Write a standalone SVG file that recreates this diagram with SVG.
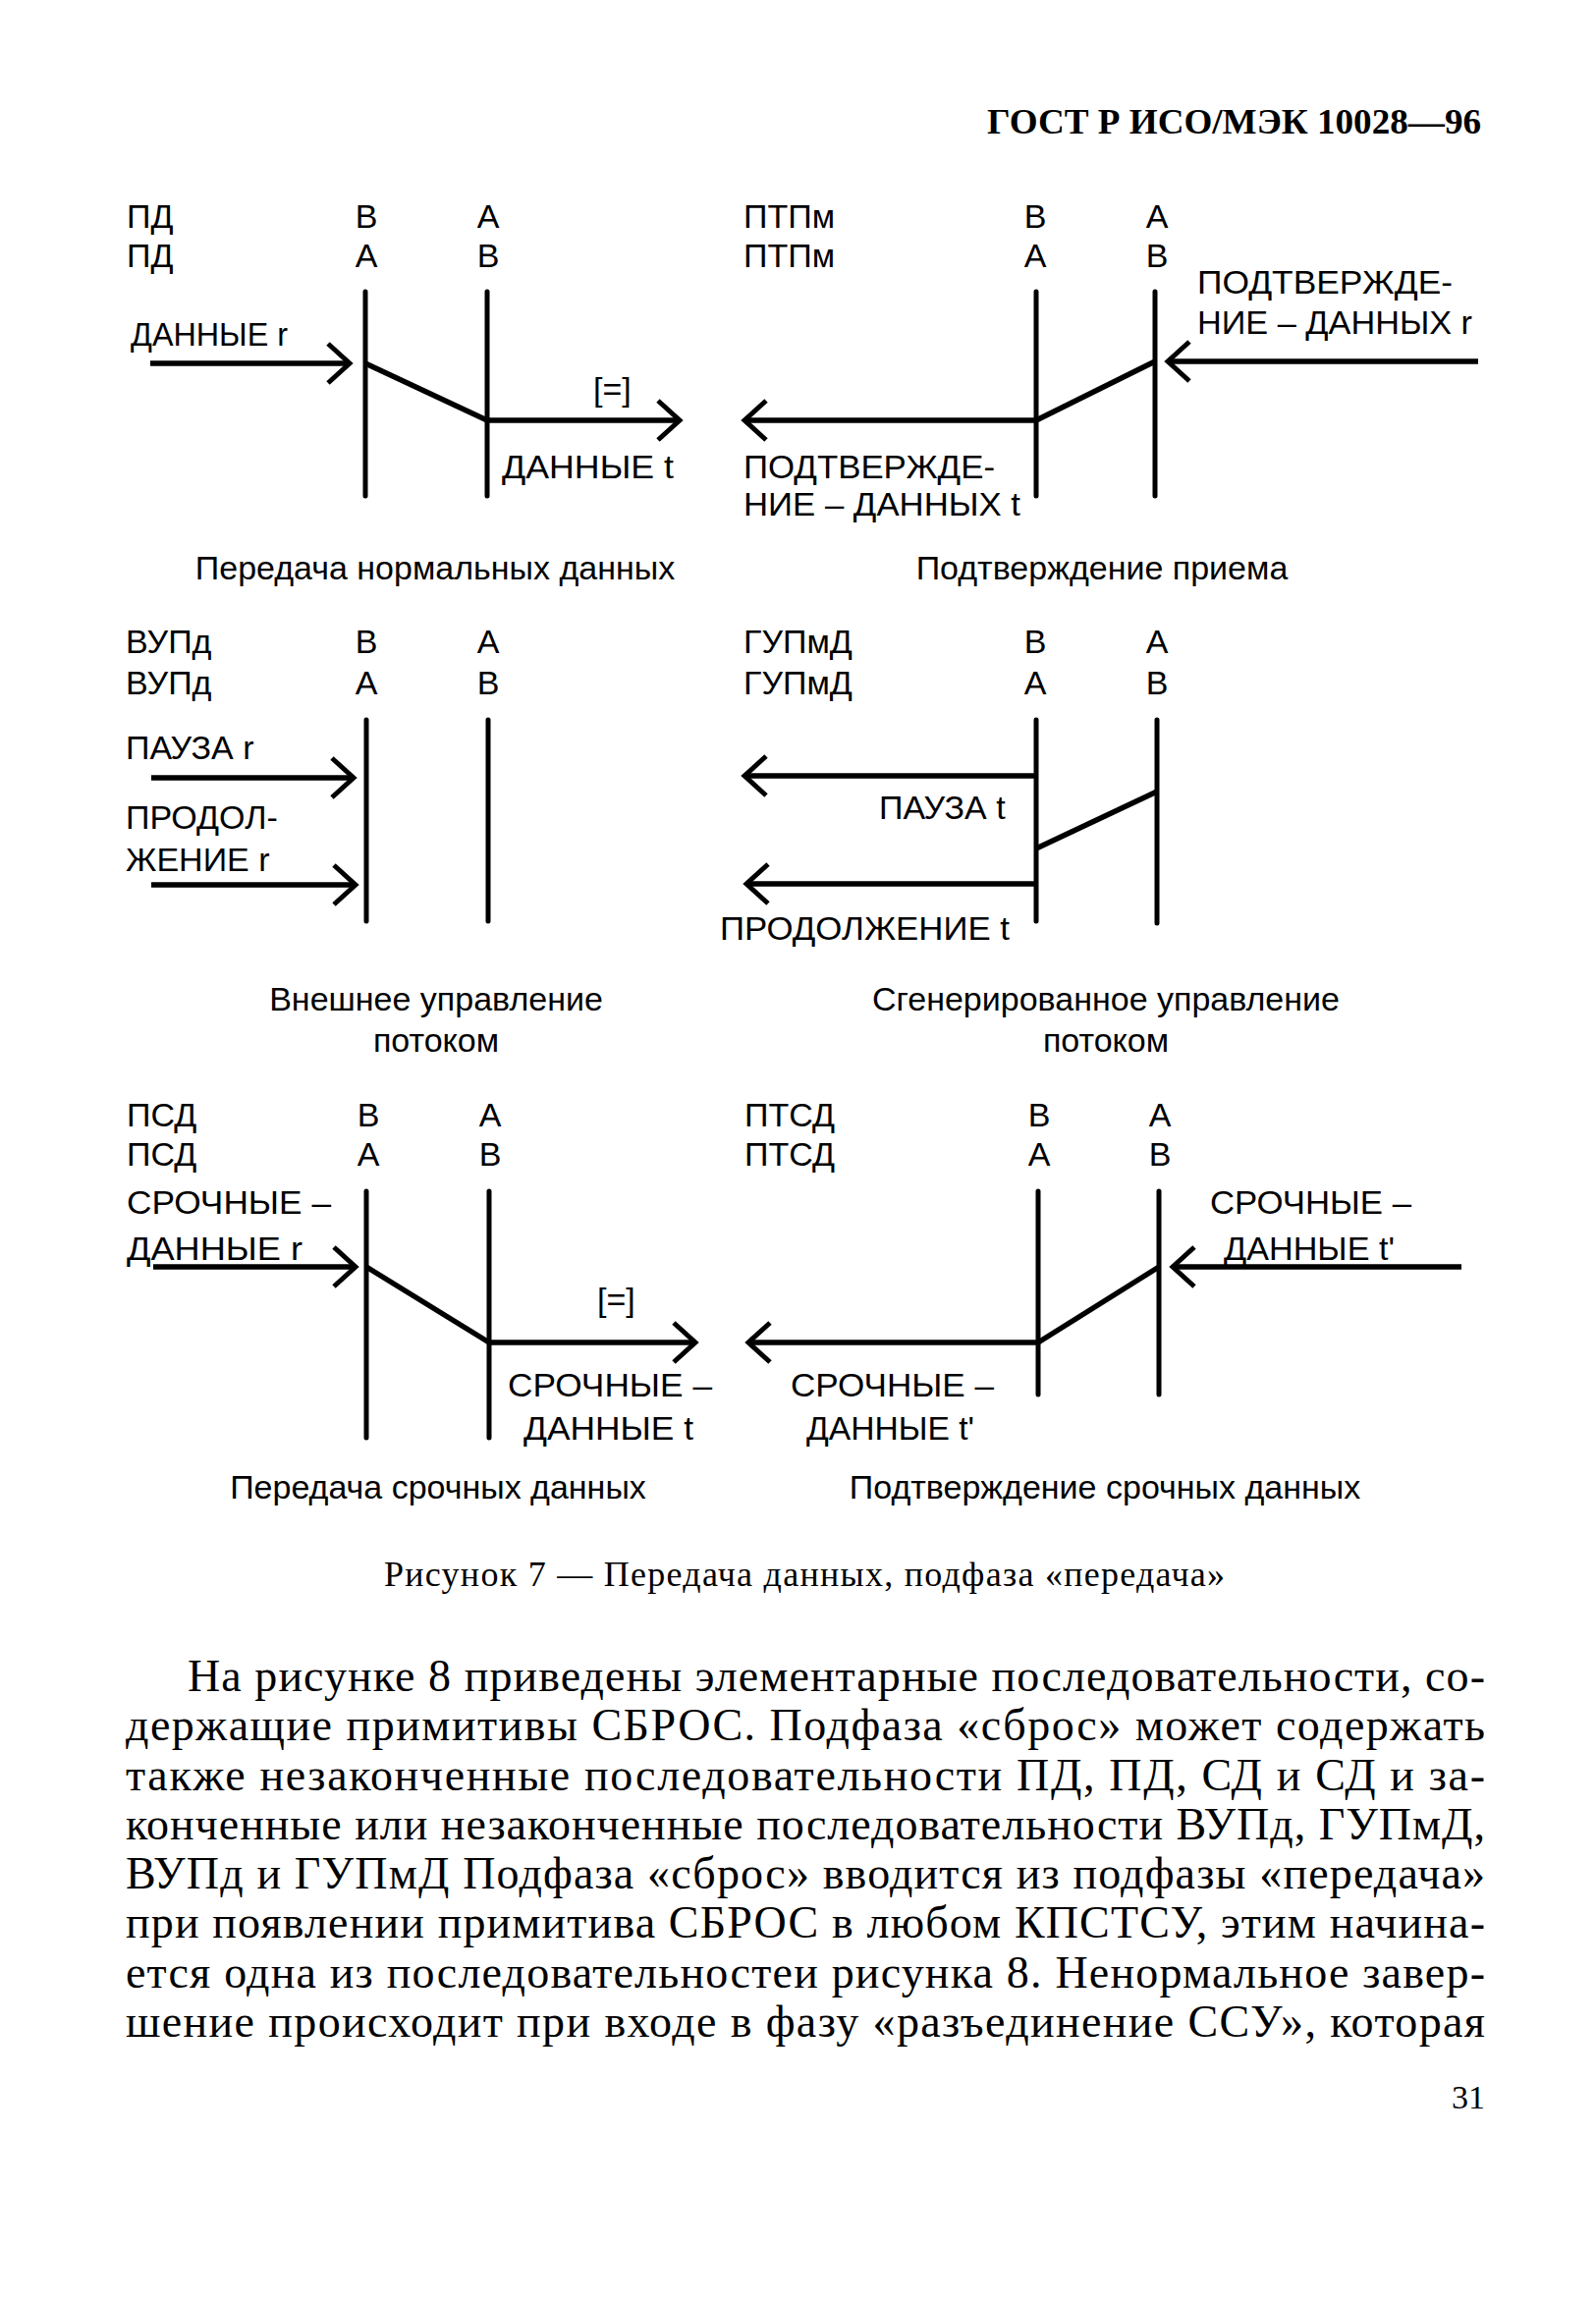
<svg xmlns="http://www.w3.org/2000/svg" width="1625" height="2341" viewBox="0 0 1625 2341">
<defs>
<style>
.s{font-family:"Liberation Sans",Arial,sans-serif;font-size:34px;fill:#000}
.m{text-anchor:middle}
.r{font-family:"Liberation Serif","Times New Roman",serif;fill:#000}
.life{stroke:#000;stroke-width:5;fill:none;stroke-linecap:round}
.con{stroke:#000;stroke-width:5.5;fill:none}
.arr{marker-end:url(#ch)}
</style>
<marker id="ch" markerUnits="userSpaceOnUse" viewBox="-30 -26 40 52" markerWidth="40" markerHeight="52" refX="0" refY="0" orient="auto" overflow="visible">
<path d="M-22,-20 L0,0 L-22,20" fill="none" stroke="#000" stroke-width="5"/>
</marker>
</defs>
<rect width="1625" height="2341" fill="#fff"/>

<g id="header">
<text class="r" x="1005" y="136" font-size="36" font-weight="bold" textLength="503" lengthAdjust="spacingAndGlyphs">ГОСТ Р ИСО/МЭК 10028—96</text>
</g>

<g id="panel-normal-data">
<text class="s" x="129" y="232">ПД</text>
<text class="s" x="129" y="272">ПД</text>
<text class="s m" x="373" y="232">В</text>
<text class="s m" x="497" y="232">А</text>
<text class="s m" x="373" y="272">А</text>
<text class="s m" x="497" y="272">В</text>
<text class="s" x="133" y="352" textLength="160" lengthAdjust="spacingAndGlyphs">ДАННЫЕ r</text>
<text class="s" x="604" y="408">[=]</text>
<text class="s" x="511" y="487" textLength="175" lengthAdjust="spacingAndGlyphs">ДАННЫЕ t</text>
<path class="life" d="M372,297 V505 M496,297 V505"/>
<text class="s m" x="443" y="590">Передача нормальных данных</text>
</g>

<g id="panel-ack">
<text class="s" x="757" y="232">ПТПм</text>
<text class="s" x="757" y="272">ПТПм</text>
<text class="s m" x="1054" y="232">В</text>
<text class="s m" x="1178" y="232">А</text>
<text class="s m" x="1054" y="272">А</text>
<text class="s m" x="1178" y="272">В</text>
<text class="s" x="1219" y="299" textLength="260" lengthAdjust="spacingAndGlyphs">ПОДТВЕРЖДЕ-</text>
<text class="s" x="1219" y="340" textLength="280" lengthAdjust="spacingAndGlyphs">НИЕ – ДАННЫХ r</text>
<text class="s" x="757" y="487" textLength="256" lengthAdjust="spacingAndGlyphs">ПОДТВЕРЖДЕ-</text>
<text class="s" x="757" y="525" textLength="282" lengthAdjust="spacingAndGlyphs">НИЕ – ДАННЫХ t</text>
<path class="life" d="M1055,297 V505 M1176,297 V505"/>
<text class="s m" x="1122" y="590">Подтверждение приема</text>
</g>

<g id="panel-external-flow">
<text class="s" x="128" y="665">ВУПд</text>
<text class="s" x="128" y="707">ВУПд</text>
<text class="s m" x="373" y="665">В</text>
<text class="s m" x="497" y="665">А</text>
<text class="s m" x="373" y="707">А</text>
<text class="s m" x="497" y="707">В</text>
<text class="s" x="128" y="773">ПАУЗА r</text>
<text class="s" x="128" y="844">ПРОДОЛ-</text>
<text class="s" x="128" y="887">ЖЕНИЕ r</text>
<path class="life" d="M373,733 V938 M497,733 V938"/>
<text class="s m" x="444" y="1029">Внешнее управление</text>
<text class="s m" x="444" y="1071">потоком</text>
</g>

<g id="panel-generated-flow">
<text class="s" x="757" y="665">ГУПмД</text>
<text class="s" x="757" y="707">ГУПмД</text>
<text class="s m" x="1054" y="665">В</text>
<text class="s m" x="1178" y="665">А</text>
<text class="s m" x="1054" y="707">А</text>
<text class="s m" x="1178" y="707">В</text>
<text class="s" x="895" y="834">ПАУЗА t</text>
<text class="s" x="733" y="957" textLength="295" lengthAdjust="spacingAndGlyphs">ПРОДОЛЖЕНИЕ t</text>
<path class="life" d="M1055,733 V938 M1178,733 V940"/>
<text class="s m" x="1126" y="1029">Сгенерированное управление</text>
<text class="s m" x="1126" y="1071">потоком</text>
</g>

<g id="panel-expedited">
<text class="s" x="129" y="1147">ПСД</text>
<text class="s" x="129" y="1187">ПСД</text>
<text class="s m" x="375" y="1147">В</text>
<text class="s m" x="499" y="1147">А</text>
<text class="s m" x="375" y="1187">А</text>
<text class="s m" x="499" y="1187">В</text>
<text class="s" x="129" y="1236" textLength="208" lengthAdjust="spacingAndGlyphs">СРОЧНЫЕ –</text>
<text class="s" x="129" y="1283" textLength="179" lengthAdjust="spacingAndGlyphs">ДАННЫЕ r</text>
<text class="s" x="608" y="1335">[=]</text>
<text class="s" x="517" y="1422" textLength="208" lengthAdjust="spacingAndGlyphs">СРОЧНЫЕ –</text>
<text class="s" x="533" y="1466" textLength="173" lengthAdjust="spacingAndGlyphs">ДАННЫЕ t</text>
<path class="life" d="M373,1213 V1464 M498,1213 V1464"/>
<text class="s m" x="446" y="1526">Передача срочных данных</text>
</g>

<g id="panel-expedited-ack">
<text class="s" x="758" y="1147">ПТСД</text>
<text class="s" x="758" y="1187">ПТСД</text>
<text class="s m" x="1058" y="1147">В</text>
<text class="s m" x="1181" y="1147">А</text>
<text class="s m" x="1058" y="1187">А</text>
<text class="s m" x="1181" y="1187">В</text>
<text class="s" x="1232" y="1236" textLength="205" lengthAdjust="spacingAndGlyphs">СРОЧНЫЕ –</text>
<text class="s" x="1246" y="1283" textLength="174" lengthAdjust="spacingAndGlyphs">ДАННЫЕ t'</text>
<text class="s" x="805" y="1422" textLength="207" lengthAdjust="spacingAndGlyphs">СРОЧНЫЕ –</text>
<text class="s" x="821" y="1466" textLength="171" lengthAdjust="spacingAndGlyphs">ДАННЫЕ t'</text>
<path class="life" d="M1057,1213 V1420 M1180,1213 V1420"/>
<text class="s m" x="1125" y="1526">Подтверждение срочных данных</text>
</g>

<g id="connectors">
<path class="con arr" d="M153,370 H356"/>
<path class="con" d="M372,370 L496,428"/>
<path class="con arr" d="M496,428 H692"/>
<path class="con arr" d="M1505,368 H1189"/>
<path class="con" d="M1176,368 L1055,428"/>
<path class="con arr" d="M1055,428 H758"/>
<path class="con arr" d="M154,792 H360"/>
<path class="con arr" d="M154,901 H362"/>
<path class="con arr" d="M1055,790 H758"/>
<path class="con" d="M1178,806 L1055,864"/>
<path class="con arr" d="M1055,900 H760"/>
<path class="con arr" d="M156,1290 H362"/>
<path class="con" d="M373,1290 L498,1367"/>
<path class="con arr" d="M498,1367 H708"/>
<path class="con arr" d="M1488,1290 H1194"/>
<path class="con" d="M1180,1290 L1057,1367"/>
<path class="con arr" d="M1057,1367 H762"/>
</g>

<g id="figure-caption">
<text class="r" x="391" y="1615" font-size="36" textLength="856" lengthAdjust="spacing">Рисунок 7  — Передача данных, подфаза «передача»</text>
</g>

<g id="paragraph" font-size="46">
<text class="r" x="191" y="1722" textLength="1321" lengthAdjust="spacing">На рисунке 8 приведены элементарные последовательности, со-</text>
<text class="r" x="128" y="1772" textLength="1384" lengthAdjust="spacing">держащие примитивы СБРОС. Подфаза «сброс» может содержать</text>
<text class="r" x="128" y="1823" textLength="1384" lengthAdjust="spacing">также незаконченные последовательности ПД, ПД, СД и СД и за-</text>
<text class="r" x="128" y="1873" textLength="1384" lengthAdjust="spacing">конченные или незаконченные последовательности ВУПд, ГУПмД,</text>
<text class="r" x="128" y="1923" textLength="1384" lengthAdjust="spacing">ВУПд и ГУПмД  Подфаза «сброс» вводится из подфазы «передача»</text>
<text class="r" x="128" y="1973" textLength="1384" lengthAdjust="spacing">при появлении примитива СБРОС в любом КПСТСУ, этим начина-</text>
<text class="r" x="128" y="2024" textLength="1384" lengthAdjust="spacing">ется одна из последовательностеи рисунка 8. Ненормальное завер-</text>
<text class="r" x="128" y="2074" textLength="1384" lengthAdjust="spacing">шение происходит при входе в фазу  «разъединение ССУ»,  которая</text>
</g>

<g id="page-number">
<text class="r" x="1512" y="2147" font-size="34" text-anchor="end">31</text>
</g>
</svg>
